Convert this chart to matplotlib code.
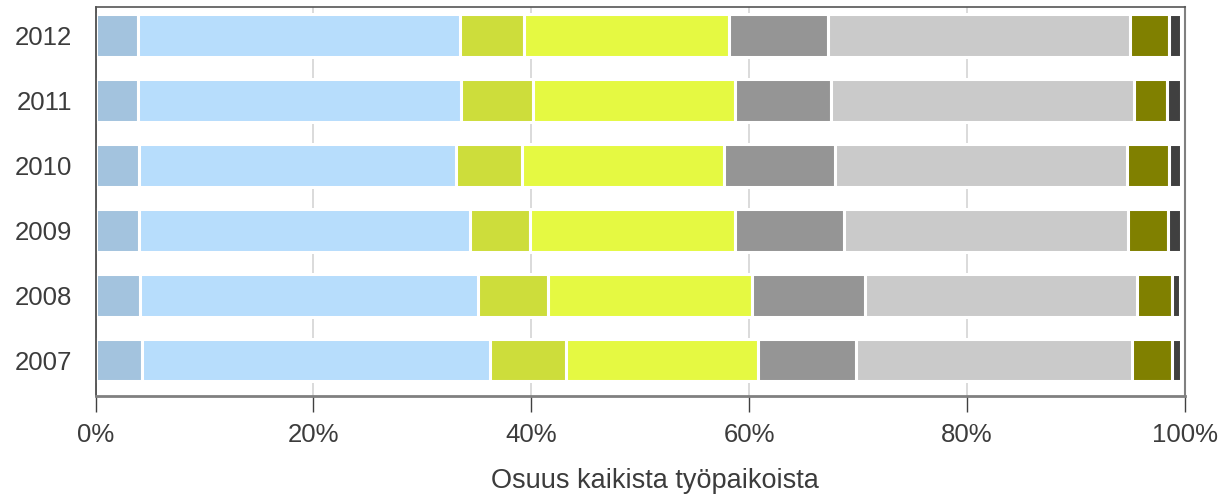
import matplotlib.pyplot as plt
import numpy as np

plt.rcParams['font.family'] = ['Liberation Sans', 'DejaVu Sans']

years = ["2007", "2008", "2009", "2010", "2011", "2012"]

# osuudet (%) segmenteittain, vuodet 2007..2012
seg1 = [4.21, 4.11, 4.02, 4.02, 3.88, 3.84]
seg2 = [32.00, 31.04, 30.31, 29.11, 29.71, 29.57]
seg3 = [7.02, 6.43, 5.58, 6.02, 6.61, 5.92]
seg4 = [17.56, 18.66, 18.77, 18.56, 18.48, 18.84]
seg5 = [9.00, 10.42, 10.05, 10.18, 8.80, 9.12]
seg6 = [25.40, 24.94, 26.09, 26.79, 27.85, 27.71]
seg7 = [3.69, 3.28, 3.69, 3.88, 3.09, 3.60]
seg8 = [0.82, 0.73, 1.19, 1.14, 1.28, 1.10]

segments = [seg1, seg2, seg3, seg4, seg5, seg6, seg7, seg8]
colors = ["#a3c3de", "#b7ddfc", "#cddd3b", "#e5f942",
          "#959595", "#cacaca", "#808000", "#404040"]

text_color = "#3c3c3c"

fig = plt.figure(figsize=(12.27, 4.95), dpi=100)
ax = fig.add_axes([0.078, 0.2006, 0.8875, 0.786])

y = np.arange(len(years))
left = np.zeros(len(years))
for vals, col in zip(segments, colors):
    ax.barh(y, vals, left=left, height=0.66, color=col,
            edgecolor="white", linewidth=2.2, zorder=2)
    left += np.array(vals)

ax.set_xlim(0, 100)
ax.set_ylim(-0.55, 5.45)
ax.set_yticks(y)
ax.set_yticklabels(years)
ax.set_xticks([0, 20, 40, 60, 80, 100])
ax.set_xticklabels(["0%", "20%", "40%", "60%", "80%", "100%"])

ax.set_axisbelow(True)
ax.grid(axis="x", color="#d4d4d4", linewidth=1.2, zorder=0)

ax.tick_params(axis="x", direction="out", length=11.5, width=1,
               color="#404040", pad=8, labelsize=18.5, labelcolor=text_color)
ax.tick_params(axis="y", length=0, pad=17, labelsize=18.5,
               labelcolor=text_color)

ax.spines["left"].set_color("#404040")
ax.spines["left"].set_linewidth(1.2)
ax.spines["top"].set_color("#555555")
ax.spines["top"].set_linewidth(1.2)
ax.spines["right"].set_color("#808080")
ax.spines["right"].set_linewidth(1.5)
ax.spines["bottom"].set_color("#808080")
ax.spines["bottom"].set_linewidth(2)
for s in ax.spines.values():
    s.set_zorder(3)

ax.set_xlabel("Osuus kaikista työpaikoista", fontsize=19.5,
              color=text_color, labelpad=15)
ax.xaxis.label.set_x(0.514)

fig.savefig("out.png", dpi=100)
